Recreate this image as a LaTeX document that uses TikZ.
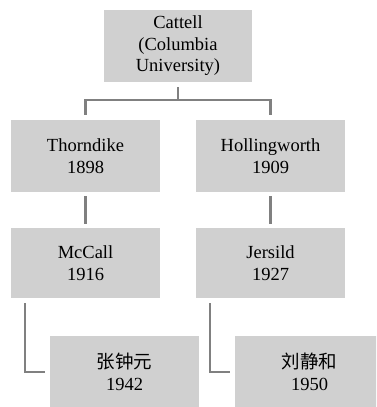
\documentclass[tikz,border=0pt]{standalone}
\usepackage{fontspec}
\setmainfont{Liberation Serif}
\newfontfamily\cjk{Noto Sans CJK SC}
\usepackage{tikz}
\usetikzlibrary{positioning,calc}
\definecolor{BoxGray}{HTML}{D0D0D0}
\definecolor{LineGray}{HTML}{808080}
\tikzset{
  % Person box
  PB/.style={rectangle,fill=BoxGray,draw=none,
             minimum width=149pt,minimum height=72pt,
             text centered,align=center,inner sep=0pt,
             font=\fontsize{18.5}{21.5}\selectfont},
  % Tree line
  link/.style={draw=LineGray,line width=2.5pt,shorten <=5pt,shorten >=5pt}
}

\begin{document}
\begin{tikzpicture}[x=1pt,y=-1pt]
  \clip (0,0) rectangle (376,407);
  \fill[white] (0,0) rectangle (376,407);

  \node[PB,minimum width=148pt] (catt)  at (178,46)    {Cattell\\(Columbia\\University)};
  \node[PB]                     (thorn) at (85.5,156)  {Thorndike\\1898};
  \node[PB]                     (holl)  at (270.5,156) {Hollingworth\\1909};
  \node[PB,minimum height=70pt] (mcc)   at (85.5,263)  {McCall\\1916};
  \node[PB,minimum height=70pt] (jers)  at (270.5,263) {Jersild\\1927};
  \node[PB]                     (zhang) at (124.5,372) {{\cjk 张钟元}\\1942};
  \node[PB]                     (liu)   at (309.5,372) {{\cjk 刘静和}\\1950};

  \draw[link](catt.south) -- ++(0,18) -| (thorn.north);
  \draw[link](catt.south) -- ++(0,18) -| (holl.north);
  \draw[link,shorten <=4pt,shorten >=4pt](thorn) -- (mcc);
  \draw[link,shorten <=4pt,shorten >=4pt](holl) -- (jers);
  \draw[link]($(mcc.south west)+(14,0)$) |- (zhang.west);
  \draw[link]($(jers.south west)+(14,0)$) |- (liu.west);
\end{tikzpicture}
\end{document}
